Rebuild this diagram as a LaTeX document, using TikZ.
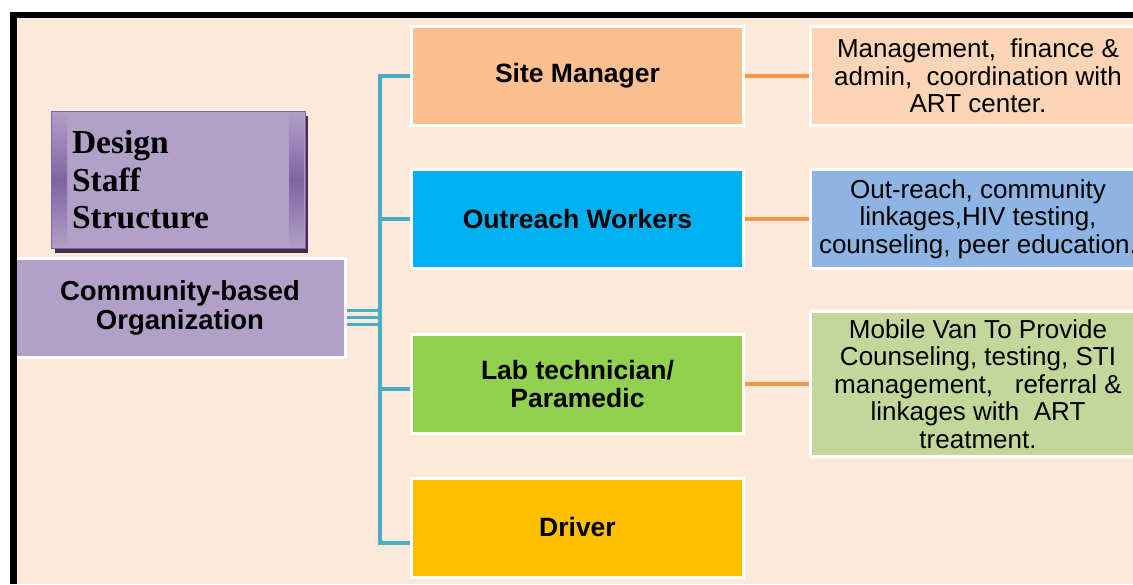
\documentclass[tikz,border=0pt]{standalone}
\usepackage{fontspec}
\setmainfont{Liberation Sans}
\newfontfamily\headserif{Liberation Serif}
\usetikzlibrary{positioning}
\definecolor{peach}{HTML}{FDE9D9}
\definecolor{lavender}{HTML}{B1A0C7}
\definecolor{darkpurple}{HTML}{8064A2}
\definecolor{shadowpurple}{HTML}{403152}
\definecolor{sitecol}{HTML}{FAC090}
\definecolor{outcol}{HTML}{00B0F0}
\definecolor{labcol}{HTML}{92D050}
\definecolor{drivercol}{HTML}{FFC000}
\definecolor{sitejobcol}{HTML}{FBD5B5}
\definecolor{outjobcol}{HTML}{8DB4E2}
\definecolor{labjobcol}{HTML}{C4D79B}
\definecolor{tealline}{HTML}{4BACC6}
\definecolor{orangeline}{HTML}{F79646}

\begin{document}
\begin{tikzpicture}[x=1pt,y=-1pt,
  staffbox/.style={draw=white,line width=3pt,minimum width=332pt,minimum height=99pt,
    align=center,font=\fontsize{26.5}{28}\selectfont\bfseries},
  dutybox/.style={draw=white,line width=3pt,minimum width=335pt,
    align=center,font=\fontsize{26}{27.4}\selectfont},
  busline/.style={draw=tealline,line width=4pt},
  dutyline/.style={draw=orangeline,line width=3.5pt}]
\tikzstyle{every node}+=[inner sep=0pt]
\clip (0,0) rectangle (1133,584);
\fill [peach] (17,18) rectangle (1133,584);
% heading box
\fill [shadowpurple] (55,116) rectangle (308,253);
\node [draw=darkpurple,line width=1pt,fill=lavender,minimum width=254pt,minimum height=137pt,
  text width=212pt,align=left,font=\headserif\fontsize{33.5}{37.5}\selectfont\bfseries,
  path picture={
    \shade [top color=lavender,bottom color=lavender,middle color=darkpurple]
      ([xshift=1pt]path picture bounding box.north west) rectangle ([xshift=16pt]path picture bounding box.south west);
    \shade [top color=lavender,bottom color=lavender,middle color=darkpurple]
      ([xshift=-16pt]path picture bounding box.north east) rectangle ([xshift=-1pt]path picture bounding box.south east);
  }] (design) at (178,180) {Design\\Staff\\Structure};
% organisation and staff
\node [draw=white,line width=3pt,fill=lavender,minimum width=331pt,minimum height=99pt,
  align=center,font=\fontsize{27.5}{28.5}\selectfont\bfseries] (cbo) at (180,308) {Community-based\\Organization};
\node [staffbox,fill=sitecol] (site) at (577.5,76) {Site Manager};
\node [staffbox,fill=outcol] (outreach) at (577.5,219) {Outreach Workers};
\node [staffbox,fill=labcol] (lab) at (577.5,384) {Lab technician/\\Paramedic};
\node [staffbox,fill=drivercol] (driver) at (577.5,527.5) {Driver};
% duties
\node [dutybox,fill=sitejobcol,minimum height=99pt] (sitejob) at (978,76)
  {Management,\ \ finance \&\\admin,\ \ coordination with\\ART center.};
\node [dutybox,fill=outjobcol,minimum height=99pt] (outjob) at (978,219)
  {Out-reach, community\\linkages,HIV testing,\\counseling, peer education.};
\node [dutybox,fill=labjobcol,minimum height=145pt] (labjob) at (978,384)
  {Mobile Van To Provide\\Counseling, testing, STI\\management,\ \ \ referral \&\\linkages with\ \ ART\\treatment.};
% connectors
\coordinate (bus) at (380,0);
\coordinate (labin) at ([yshift=-5pt]lab.west);
\coordinate (driverin) at ([yshift=-15pt]driver.west);
\draw [busline] (site.west) -- (site.west -| bus) |- (driverin);
\draw [busline] (outreach.west) -- (outreach.west -| bus);
\draw [busline] (labin) -- (labin -| bus);
\foreach \ly in {310,317,324}
  \draw [busline,line width=3pt] (cbo.east |- 0,\ly) -- (bus |- 0,\ly);
\draw [dutyline] (site.east) -- (sitejob.west);
\draw [dutyline] (outreach.east) -- (outjob.west);
\draw [dutyline] (lab.east) -- (labjob.west);
% frame
\draw [line width=6.5pt] (13.5,584) -- (13.5,15) -- (1133,15);
\end{tikzpicture}
\end{document}
